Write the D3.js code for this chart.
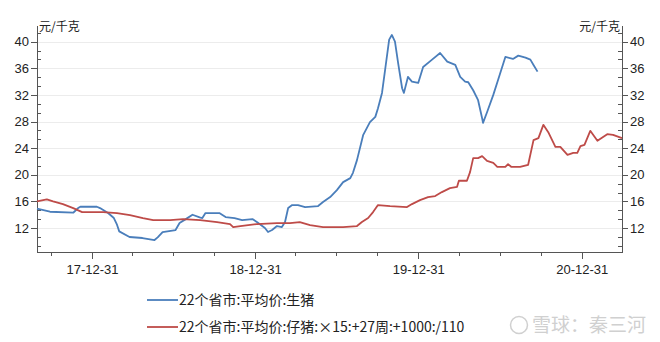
<!DOCTYPE html>
<meta charset="utf-8">
<style>
body { margin: 0; background: #fff; font-family: "Noto Sans CJK SC", "Noto Sans", sans-serif; }
.axis path, .axis line { fill: none; stroke: #555; shape-rendering: crispEdges; }
.axis text { font-size: 13px; fill: #222; }
.grid line { stroke: #ececec; shape-rendering: crispEdges; }
</style>
<body>
<script src="https://d3js.org/d3.v7.min.js"></script>
<script>

// series: 22个省市:平均价:生猪
var hogDates = ["2017-08-30","2017-09-28","2017-11-19","2017-11-30","2017-12-05","2018-01-11","2018-01-18","2018-02-05","2018-02-18","2018-02-25","2018-03-02","2018-03-25","2018-04-23","2018-05-20","2018-05-27","2018-06-07","2018-07-06","2018-07-15","2018-07-28","2018-08-13","2018-08-29","2018-09-04","2018-09-11","2018-10-12","2018-10-26","2018-11-15","2018-12-02","2018-12-25","2019-01-04","2019-01-22","2019-01-29","2019-02-07","2019-02-18","2019-03-01","2019-03-08","2019-03-15","2019-03-24","2019-04-06","2019-04-22","2019-05-21","2019-06-01","2019-06-17","2019-07-02","2019-07-16","2019-08-01","2019-08-07","2019-08-16","2019-08-30","2019-09-14","2019-09-26","2019-10-02","2019-10-11","2019-10-18","2019-10-27","2019-11-02","2019-11-09","2019-11-16","2019-11-25","2019-11-29","2019-12-08","2019-12-17","2019-12-31","2020-01-11","2020-01-31","2020-02-18","2020-03-05","2020-03-23","2020-04-03","2020-04-14","2020-04-21","2020-05-02","2020-05-13","2020-05-22","2020-05-24","2020-06-02","2020-06-16","2020-06-27","2020-07-13","2020-07-30","2020-08-11","2020-08-27","2020-09-07","2020-09-14","2020-09-23"];
var hogValues = [14.9,14.45,14.3,15.0,15.2,15.2,15.0,14.25,13.5,12.5,11.5,10.65,10.5,10.2,10.6,11.4,11.7,12.75,13.3,14.0,13.6,13.5,14.25,14.25,13.65,13.5,13.2,13.35,12.9,12.0,11.4,11.7,12.3,12.15,12.9,15.0,15.45,15.45,15.15,15.3,15.9,16.65,17.7,18.9,19.5,20.3,22.2,26.0,27.9,28.7,30.0,32.3,35.8,40.3,41.0,40.0,36.8,33.0,32.3,34.7,34.0,33.8,36.2,37.3,38.3,37.0,36.5,34.7,34.0,33.9,32.7,31.2,28.5,27.8,29.4,32.0,34.3,37.7,37.4,37.9,37.6,37.3,36.5,35.5];

// series: 22个省市:平均价:仔猪 (x15, +27 weeks, +1000, /110)
var pigletDates = ["2017-08-30","2017-09-21","2017-10-05","2017-10-27","2017-11-19","2017-12-09","2017-12-27","2018-01-25","2018-02-25","2018-03-26","2018-04-24","2018-05-17","2018-06-24","2018-07-23","2018-08-30","2018-10-07","2018-11-05","2018-11-12","2018-11-28","2019-01-04","2019-02-18","2019-03-19","2019-04-10","2019-05-03","2019-06-01","2019-07-16","2019-08-16","2019-08-27","2019-09-10","2019-09-21","2019-10-02","2019-10-29","2019-12-06","2019-12-17","2020-01-04","2020-01-22","2020-02-07","2020-02-22","2020-03-11","2020-03-27","2020-03-31","2020-04-18","2020-04-25","2020-05-02","2020-05-13","2020-05-22","2020-06-02","2020-06-16","2020-06-25","2020-07-13","2020-07-19","2020-07-26","2020-08-15","2020-09-02","2020-09-14","2020-09-25","2020-10-06","2020-10-17","2020-11-02","2020-11-13","2020-11-29","2020-12-12","2020-12-21","2020-12-28","2021-01-06","2021-01-19","2021-02-04","2021-02-26","2021-03-11","2021-03-31"];
var pigletValues = [16.0,16.3,16.0,15.6,15.0,14.4,14.4,14.4,14.25,13.95,13.5,13.2,13.2,13.35,13.2,12.9,12.6,12.15,12.3,12.6,12.75,12.75,12.9,12.45,12.15,12.15,12.3,12.9,13.5,14.4,15.45,15.3,15.15,15.6,16.2,16.65,16.8,17.4,18.0,18.2,19.1,19.1,20.4,22.5,22.5,22.8,22.1,21.8,21.2,21.2,21.6,21.2,21.2,21.5,25.2,25.5,27.5,26.4,24.2,24.2,23.0,23.3,23.3,24.3,24.5,26.6,25.1,26.1,26.0,25.5];

var seriesNames = ["22个省市:平均价:生猪", "22个省市:平均价:仔猪:×15:+27周:+1000:/110"];
var seriesColors = ["#4a7ebb", "#be4b48"];

var yMajor = [12, 16, 20, 24, 28, 32, 36, 40];
var xMajor = ["2017-12-31", "2018-12-31", "2019-12-31", "2020-12-31"];
var xMinor = ["2017-09-30", "2018-03-31", "2018-06-30", "2018-09-30", "2019-03-31", "2019-06-30", "2019-09-30", "2020-03-31", "2020-06-30", "2020-09-30"];
var unitLabel = "元/千克";

var parse = d3.timeParse("%Y-%m-%d");
var fmt = d3.timeFormat("%y-%m-%d");

var plotLeft = 37, plotRight = 622, plotTop = 25, plotBottom = 252;

var svg = d3.select("body").append("svg")
    .attr("width", 660)
    .attr("height", 342);

var x = d3.scaleTime()
    .domain([parse("2017-08-30"), parse("2021-03-31")])
    .range([plotLeft, plotRight]);

var y = d3.scaleLinear()
    .domain([8.4, 42.5])
    .range([plotBottom, plotTop]);

// minor ticks split each 4-unit interval in three
var yMinor = [];
for (var k = 7; k <= 31; k++) {
    if (k % 3 != 0) yMinor.push(k * 4 / 3);
}

// gridlines
svg.append("g").attr("class", "grid")
    .selectAll("line").data(yMajor).enter().append("line")
    .attr("x1", plotLeft).attr("x2", plotRight)
    .attr("y1", function(d) { return Math.round(y(d)) + 0.5; })
    .attr("y2", function(d) { return Math.round(y(d)) + 0.5; });

// left axis
svg.append("g").attr("class", "axis")
    .attr("transform", "translate(" + plotLeft + ",0)")
    .call(d3.axisLeft(y).tickValues(yMajor).tickSize(6).tickSizeOuter(0).tickPadding(2));
svg.append("g").attr("class", "axis")
    .attr("transform", "translate(" + plotLeft + ",0)")
    .call(d3.axisRight(y).tickValues(yMinor).tickSize(4).tickSizeOuter(0).tickFormat(""));

// right axis
svg.append("g").attr("class", "axis")
    .attr("transform", "translate(" + plotRight + ",0)")
    .call(d3.axisRight(y).tickValues(yMajor).tickSize(6).tickSizeOuter(0).tickPadding(2));
svg.append("g").attr("class", "axis")
    .attr("transform", "translate(" + plotRight + ",0)")
    .call(d3.axisLeft(y).tickValues(yMinor).tickSize(4).tickSizeOuter(0).tickFormat(""));

// bottom axis
svg.append("g").attr("class", "axis")
    .attr("transform", "translate(0," + plotBottom + ")")
    .call(d3.axisBottom(x).tickValues(xMajor.map(parse)).tickSize(7).tickSizeOuter(0).tickPadding(6).tickFormat(fmt));
svg.append("g").attr("class", "axis")
    .attr("transform", "translate(0," + plotBottom + ")")
    .call(d3.axisBottom(x).tickValues(xMinor.map(parse)).tickSize(4).tickSizeOuter(0).tickFormat(""));

// unit labels
svg.append("text").attr("x", plotLeft + 2).attr("y", 31)
    .style("font-size", "12px").attr("fill", "#222").text(unitLabel);
svg.append("text").attr("x", plotRight - 2).attr("y", 31)
    .attr("text-anchor", "end")
    .style("font-size", "12px").attr("fill", "#222").text(unitLabel);

// lines
var line = d3.line()
    .x(function(d) { return x(d[0]); })
    .y(function(d) { return y(d[1]); });

var series = [
    hogDates.map(function(d, i) { return [parse(d), hogValues[i]]; }),
    pigletDates.map(function(d, i) { return [parse(d), pigletValues[i]]; })
];

svg.selectAll(".series")
    .data(series)
  .enter().append("path")
    .attr("class", "series")
    .attr("fill", "none")
    .attr("stroke", function(d, i) { return seriesColors[i]; })
    .attr("stroke-width", 1.8)
    .attr("stroke-linejoin", "round")
    .attr("d", line);

// legend
var legend = svg.selectAll(".legend")
    .data(seriesNames)
  .enter().append("g")
    .attr("class", "legend")
    .attr("transform", function(d, i) { return "translate(147," + (300 + i * 27) + ")"; });

legend.append("line")
    .attr("x1", 0).attr("x2", 31)
    .attr("stroke", function(d, i) { return seriesColors[i]; })
    .attr("stroke-width", 1.8);

legend.append("text")
    .attr("x", 32).attr("y", 5)
    .style("font-size", "14px")
    .attr("fill", "#222")
    .text(function(d) { return d; });

// watermark
svg.append("circle").attr("cx", 519).attr("cy", 325).attr("r", 8.5)
    .attr("fill", "none").attr("stroke", "#d0d0d0").attr("stroke-width", 1.5);
svg.append("text").attr("x", 532).attr("y", 332)
    .style("font-size", "19px").attr("fill", "#d0d0d0")
    .text("雪球：秦三河");

</script>
</body>
